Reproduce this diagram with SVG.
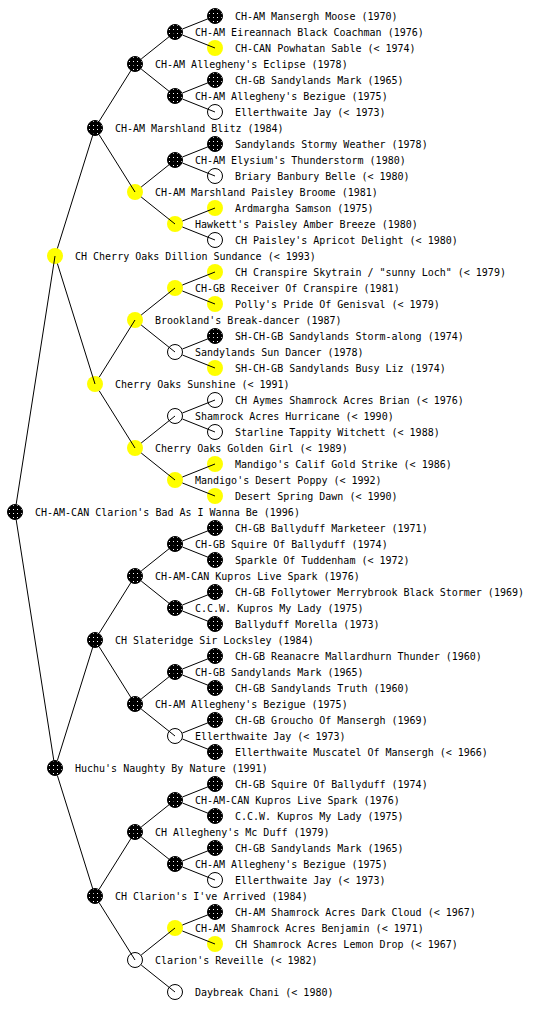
<svg xmlns="http://www.w3.org/2000/svg" width="560" height="1024" viewBox="0 0 560 1024">
<defs>
<pattern id="dots" width="4" height="4" patternUnits="userSpaceOnUse">
<rect width="4" height="4" fill="#000"/>
<rect x="1" y="1" width="1" height="1" fill="#fff"/>
</pattern>
</defs>
<style>
.b circle{fill:url(#dots);stroke:#000;stroke-width:1}
.y circle{fill:#ffff00}
.w circle{fill:#fff;stroke:#000;stroke-width:1}
text{font-family:"DejaVu Sans Mono","Liberation Mono",monospace;font-size:10px;fill:#000}
#edges line{stroke:#000;stroke-width:1}
</style>
<rect width="560" height="1024" fill="#fff"/>
<g id="nodes">
<g id="n016" class="b"><circle cx="215" cy="16" r="7.5"/><text x="235" y="20">CH-AM Mansergh Moose (1970)</text></g>
<g id="n032" class="b"><circle cx="175" cy="32" r="7.5"/><text x="195" y="36">CH-AM Eireannach Black Coachman (1976)</text></g>
<g id="n048" class="y"><circle cx="215" cy="48" r="8"/><text x="235" y="52">CH-CAN Powhatan Sable (&lt; 1974)</text></g>
<g id="n064" class="b"><circle cx="135" cy="64" r="7.5"/><text x="155" y="68">CH-AM Allegheny's Eclipse (1978)</text></g>
<g id="n080" class="b"><circle cx="215" cy="80" r="7.5"/><text x="235" y="84">CH-GB Sandylands Mark (1965)</text></g>
<g id="n096" class="b"><circle cx="175" cy="96" r="7.5"/><text x="195" y="100">CH-AM Allegheny's Bezigue (1975)</text></g>
<g id="n112" class="w"><circle cx="215" cy="112" r="7.5"/><text x="235" y="116">Ellerthwaite Jay (&lt; 1973)</text></g>
<g id="n128" class="b"><circle cx="95" cy="128" r="7.5"/><text x="115" y="132">CH-AM Marshland Blitz (1984)</text></g>
<g id="n144" class="b"><circle cx="215" cy="144" r="7.5"/><text x="235" y="148">Sandylands Stormy Weather (1978)</text></g>
<g id="n160" class="b"><circle cx="175" cy="160" r="7.5"/><text x="195" y="164">CH-AM Elysium's Thunderstorm (1980)</text></g>
<g id="n176" class="w"><circle cx="215" cy="176" r="7.5"/><text x="235" y="180">Briary Banbury Belle (&lt; 1980)</text></g>
<g id="n192" class="y"><circle cx="135" cy="192" r="8"/><text x="155" y="196">CH-AM Marshland Paisley Broome (1981)</text></g>
<g id="n208" class="y"><circle cx="215" cy="208" r="8"/><text x="235" y="212">Ardmargha Samson (1975)</text></g>
<g id="n224" class="y"><circle cx="175" cy="224" r="8"/><text x="195" y="228">Hawkett's Paisley Amber Breeze (1980)</text></g>
<g id="n240" class="w"><circle cx="215" cy="240" r="7.5"/><text x="235" y="244">CH Paisley's Apricot Delight (&lt; 1980)</text></g>
<g id="n256" class="y"><circle cx="55" cy="256" r="8"/><text x="75" y="260">CH Cherry Oaks Dillion Sundance (&lt; 1993)</text></g>
<g id="n272" class="y"><circle cx="215" cy="272" r="8"/><text x="235" y="276">CH Cranspire Skytrain / "sunny Loch" (&lt; 1979)</text></g>
<g id="n288" class="y"><circle cx="175" cy="288" r="8"/><text x="195" y="292">CH-GB Receiver Of Cranspire (1981)</text></g>
<g id="n304" class="y"><circle cx="215" cy="304" r="8"/><text x="235" y="308">Polly's Pride Of Genisval (&lt; 1979)</text></g>
<g id="n320" class="y"><circle cx="135" cy="320" r="8"/><text x="155" y="324">Brookland's Break-dancer (1987)</text></g>
<g id="n336" class="b"><circle cx="215" cy="336" r="7.5"/><text x="235" y="340">SH-CH-GB Sandylands Storm-along (1974)</text></g>
<g id="n352" class="w"><circle cx="175" cy="352" r="7.5"/><text x="195" y="356">Sandylands Sun Dancer (1978)</text></g>
<g id="n368" class="y"><circle cx="215" cy="368" r="8"/><text x="235" y="372">SH-CH-GB Sandylands Busy Liz (1974)</text></g>
<g id="n384" class="y"><circle cx="95" cy="384" r="8"/><text x="115" y="388">Cherry Oaks Sunshine (&lt; 1991)</text></g>
<g id="n400" class="w"><circle cx="215" cy="400" r="7.5"/><text x="235" y="404">CH Aymes Shamrock Acres Brian (&lt; 1976)</text></g>
<g id="n416" class="w"><circle cx="175" cy="416" r="7.5"/><text x="195" y="420">Shamrock Acres Hurricane (&lt; 1990)</text></g>
<g id="n432" class="w"><circle cx="215" cy="432" r="7.5"/><text x="235" y="436">Starline Tappity Witchett (&lt; 1988)</text></g>
<g id="n448" class="y"><circle cx="135" cy="448" r="8"/><text x="155" y="452">Cherry Oaks Golden Girl (&lt; 1989)</text></g>
<g id="n464" class="y"><circle cx="215" cy="464" r="8"/><text x="235" y="468">Mandigo's Calif Gold Strike (&lt; 1986)</text></g>
<g id="n480" class="y"><circle cx="175" cy="480" r="8"/><text x="195" y="484">Mandigo's Desert Poppy (&lt; 1992)</text></g>
<g id="n496" class="y"><circle cx="215" cy="496" r="8"/><text x="235" y="500">Desert Spring Dawn (&lt; 1990)</text></g>
<g id="n512" class="b"><circle cx="15" cy="512" r="7.5"/><text x="35" y="516">CH-AM-CAN Clarion's Bad As I Wanna Be (1996)</text></g>
<g id="n528" class="b"><circle cx="215" cy="528" r="7.5"/><text x="235" y="532">CH-GB Ballyduff Marketeer (1971)</text></g>
<g id="n544" class="b"><circle cx="175" cy="544" r="7.5"/><text x="195" y="548">CH-GB Squire Of Ballyduff (1974)</text></g>
<g id="n560" class="b"><circle cx="215" cy="560" r="7.5"/><text x="235" y="564">Sparkle Of Tuddenham (&lt; 1972)</text></g>
<g id="n576" class="b"><circle cx="135" cy="576" r="7.5"/><text x="155" y="580">CH-AM-CAN Kupros Live Spark (1976)</text></g>
<g id="n592" class="b"><circle cx="215" cy="592" r="7.5"/><text x="235" y="596">CH-GB Follytower Merrybrook Black Stormer (1969)</text></g>
<g id="n608" class="b"><circle cx="175" cy="608" r="7.5"/><text x="195" y="612">C.C.W. Kupros My Lady (1975)</text></g>
<g id="n624" class="b"><circle cx="215" cy="624" r="7.5"/><text x="235" y="628">Ballyduff Morella (1973)</text></g>
<g id="n640" class="b"><circle cx="95" cy="640" r="7.5"/><text x="115" y="644">CH Slateridge Sir Locksley (1984)</text></g>
<g id="n656" class="b"><circle cx="215" cy="656" r="7.5"/><text x="235" y="660">CH-GB Reanacre Mallardhurn Thunder (1960)</text></g>
<g id="n672" class="b"><circle cx="175" cy="672" r="7.5"/><text x="195" y="676">CH-GB Sandylands Mark (1965)</text></g>
<g id="n688" class="b"><circle cx="215" cy="688" r="7.5"/><text x="235" y="692">CH-GB Sandylands Truth (1960)</text></g>
<g id="n704" class="b"><circle cx="135" cy="704" r="7.5"/><text x="155" y="708">CH-AM Allegheny's Bezigue (1975)</text></g>
<g id="n720" class="b"><circle cx="215" cy="720" r="7.5"/><text x="235" y="724">CH-GB Groucho Of Mansergh (1969)</text></g>
<g id="n736" class="w"><circle cx="175" cy="736" r="7.5"/><text x="195" y="740">Ellerthwaite Jay (&lt; 1973)</text></g>
<g id="n752" class="b"><circle cx="215" cy="752" r="7.5"/><text x="235" y="756">Ellerthwaite Muscatel Of Mansergh (&lt; 1966)</text></g>
<g id="n768" class="b"><circle cx="55" cy="768" r="7.5"/><text x="75" y="772">Huchu's Naughty By Nature (1991)</text></g>
<g id="n784" class="b"><circle cx="215" cy="784" r="7.5"/><text x="235" y="788">CH-GB Squire Of Ballyduff (1974)</text></g>
<g id="n800" class="b"><circle cx="175" cy="800" r="7.5"/><text x="195" y="804">CH-AM-CAN Kupros Live Spark (1976)</text></g>
<g id="n816" class="b"><circle cx="215" cy="816" r="7.5"/><text x="235" y="820">C.C.W. Kupros My Lady (1975)</text></g>
<g id="n832" class="b"><circle cx="135" cy="832" r="7.5"/><text x="155" y="836">CH Allegheny's Mc Duff (1979)</text></g>
<g id="n848" class="b"><circle cx="215" cy="848" r="7.5"/><text x="235" y="852">CH-GB Sandylands Mark (1965)</text></g>
<g id="n864" class="b"><circle cx="175" cy="864" r="7.5"/><text x="195" y="868">CH-AM Allegheny's Bezigue (1975)</text></g>
<g id="n880" class="w"><circle cx="215" cy="880" r="7.5"/><text x="235" y="884">Ellerthwaite Jay (&lt; 1973)</text></g>
<g id="n896" class="b"><circle cx="95" cy="896" r="7.5"/><text x="115" y="900">CH Clarion's I've Arrived (1984)</text></g>
<g id="n912" class="b"><circle cx="215" cy="912" r="7.5"/><text x="235" y="916">CH-AM Shamrock Acres Dark Cloud (&lt; 1967)</text></g>
<g id="n928" class="y"><circle cx="175" cy="928" r="8"/><text x="195" y="932">CH-AM Shamrock Acres Benjamin (&lt; 1971)</text></g>
<g id="n944" class="y"><circle cx="215" cy="944" r="8"/><text x="235" y="948">CH Shamrock Acres Lemon Drop (&lt; 1967)</text></g>
<g id="n960" class="w"><circle cx="135" cy="960" r="7.5"/><text x="155" y="964">Clarion's Reveille (&lt; 1982)</text></g>
<g id="n992" class="w"><circle cx="175" cy="992" r="7.5"/><text x="195" y="996">Daybreak Chani (&lt; 1980)</text></g>
</g>
<g id="edges">
<line x1="16.2" y1="504.1" x2="55" y2="256"/>
<line x1="16.2" y1="519.9" x2="55" y2="768"/>
<line x1="57.4" y1="248.4" x2="95" y2="128"/>
<line x1="57.4" y1="263.6" x2="95" y2="384"/>
<line x1="57.4" y1="760.4" x2="95" y2="640"/>
<line x1="57.4" y1="775.6" x2="95" y2="896"/>
<line x1="99.2" y1="121.2" x2="135" y2="64"/>
<line x1="99.2" y1="134.8" x2="135" y2="192"/>
<line x1="99.2" y1="377.2" x2="135" y2="320"/>
<line x1="99.2" y1="390.8" x2="135" y2="448"/>
<line x1="99.2" y1="633.2" x2="135" y2="576"/>
<line x1="99.2" y1="646.8" x2="135" y2="704"/>
<line x1="99.2" y1="889.2" x2="135" y2="832"/>
<line x1="99.2" y1="902.8" x2="135" y2="960"/>
<line x1="141.2" y1="59" x2="175" y2="32"/>
<line x1="141.2" y1="69" x2="175" y2="96"/>
<line x1="141.2" y1="187" x2="175" y2="160"/>
<line x1="141.2" y1="197" x2="175" y2="224"/>
<line x1="141.2" y1="315" x2="175" y2="288"/>
<line x1="141.2" y1="325" x2="175" y2="352"/>
<line x1="141.2" y1="443" x2="175" y2="416"/>
<line x1="141.2" y1="453" x2="175" y2="480"/>
<line x1="141.2" y1="571" x2="175" y2="544"/>
<line x1="141.2" y1="581" x2="175" y2="608"/>
<line x1="141.2" y1="699" x2="175" y2="672"/>
<line x1="141.2" y1="709" x2="175" y2="736"/>
<line x1="141.2" y1="827" x2="175" y2="800"/>
<line x1="141.2" y1="837" x2="175" y2="864"/>
<line x1="141.2" y1="955" x2="175" y2="928"/>
<line x1="141.2" y1="965" x2="175" y2="992"/>
<line x1="182.4" y1="29" x2="215" y2="16"/>
<line x1="182.4" y1="35" x2="215" y2="48"/>
<line x1="182.4" y1="93" x2="215" y2="80"/>
<line x1="182.4" y1="99" x2="215" y2="112"/>
<line x1="182.4" y1="157" x2="215" y2="144"/>
<line x1="182.4" y1="163" x2="215" y2="176"/>
<line x1="182.4" y1="221" x2="215" y2="208"/>
<line x1="182.4" y1="227" x2="215" y2="240"/>
<line x1="182.4" y1="285" x2="215" y2="272"/>
<line x1="182.4" y1="291" x2="215" y2="304"/>
<line x1="182.4" y1="349" x2="215" y2="336"/>
<line x1="182.4" y1="355" x2="215" y2="368"/>
<line x1="182.4" y1="413" x2="215" y2="400"/>
<line x1="182.4" y1="419" x2="215" y2="432"/>
<line x1="182.4" y1="477" x2="215" y2="464"/>
<line x1="182.4" y1="483" x2="215" y2="496"/>
<line x1="182.4" y1="541" x2="215" y2="528"/>
<line x1="182.4" y1="547" x2="215" y2="560"/>
<line x1="182.4" y1="605" x2="215" y2="592"/>
<line x1="182.4" y1="611" x2="215" y2="624"/>
<line x1="182.4" y1="669" x2="215" y2="656"/>
<line x1="182.4" y1="675" x2="215" y2="688"/>
<line x1="182.4" y1="733" x2="215" y2="720"/>
<line x1="182.4" y1="739" x2="215" y2="752"/>
<line x1="182.4" y1="797" x2="215" y2="784"/>
<line x1="182.4" y1="803" x2="215" y2="816"/>
<line x1="182.4" y1="861" x2="215" y2="848"/>
<line x1="182.4" y1="867" x2="215" y2="880"/>
<line x1="182.4" y1="925" x2="215" y2="912"/>
<line x1="182.4" y1="931" x2="215" y2="944"/>
</g>
</svg>
